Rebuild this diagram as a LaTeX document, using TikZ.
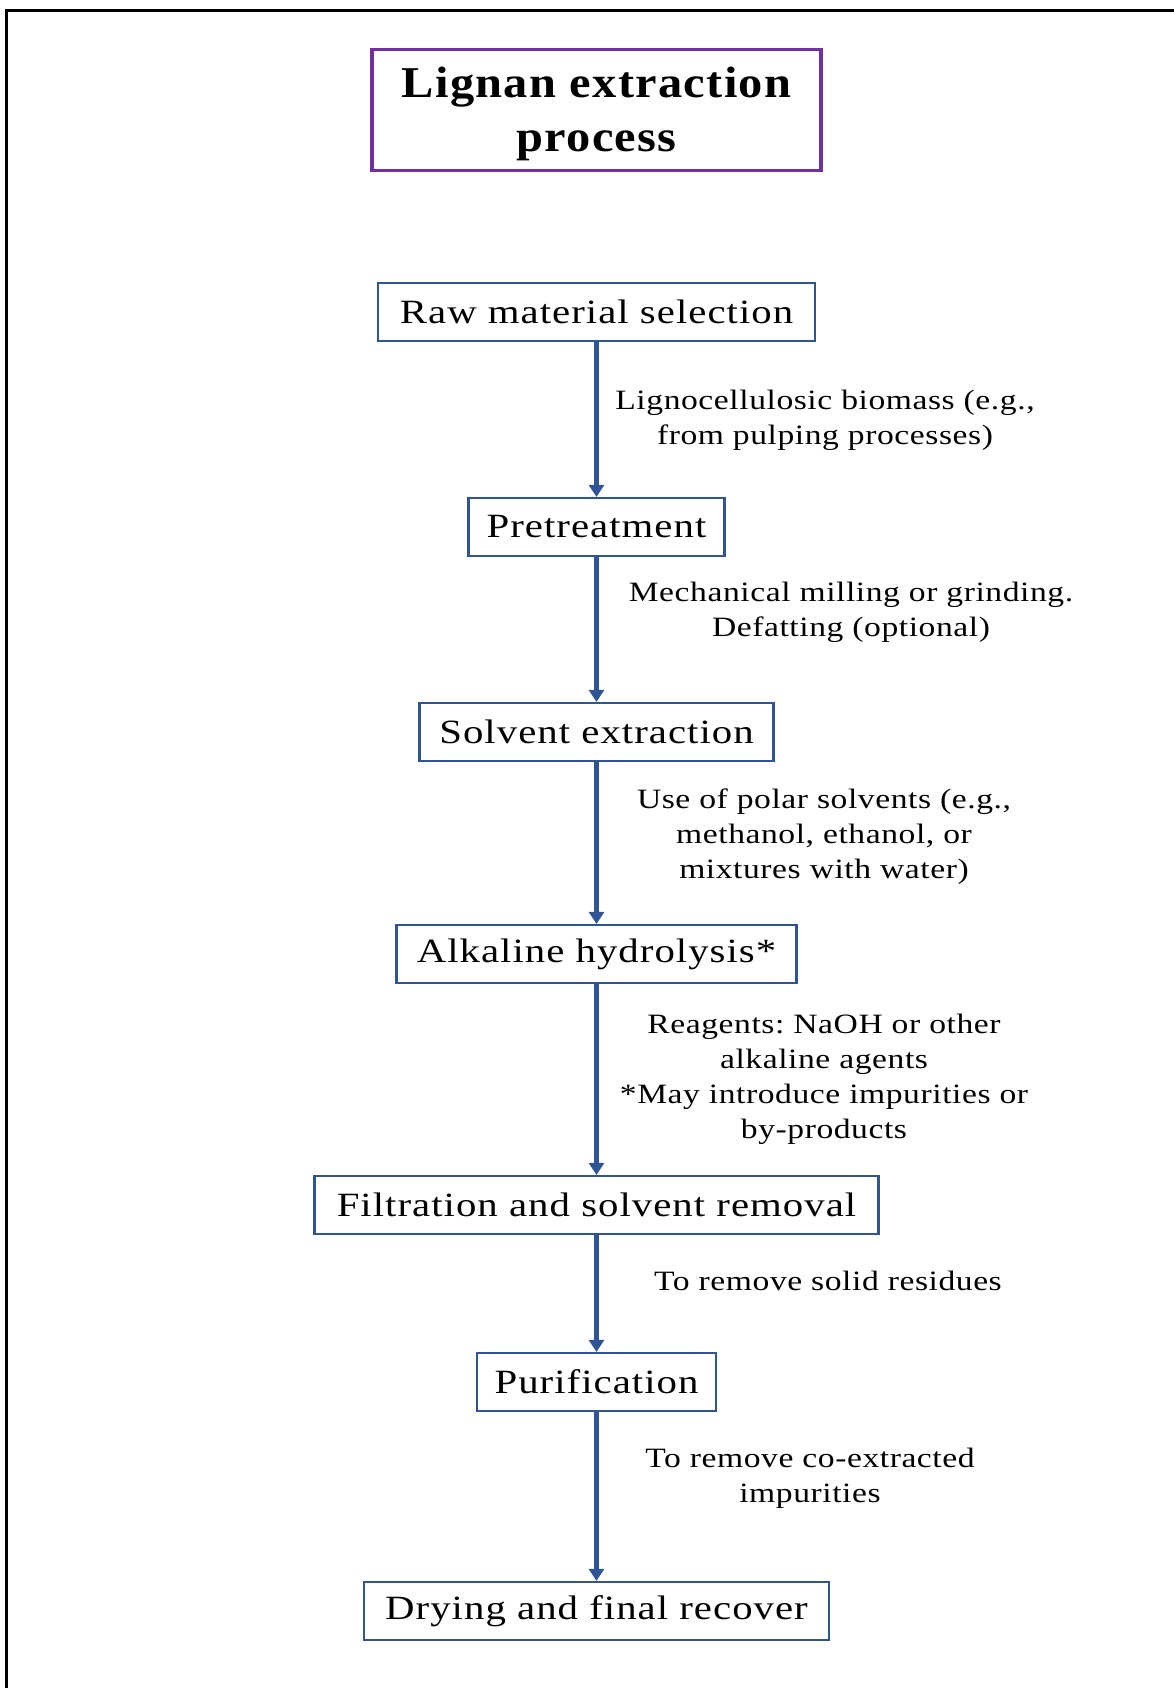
\documentclass[tikz,border=0pt]{standalone}
\usepackage{fontspec}
\setmainfont{Liberation Serif}
\newfontfamily\boxfont[FakeStretch=1.2,LetterSpace=3]{Liberation Serif}
\newfontfamily\labfont[FakeStretch=1.2,LetterSpace=2]{Liberation Serif}
\newfontfamily\titlefont[FakeStretch=1.1,LetterSpace=3]{Liberation Serif}
\usetikzlibrary{arrows.meta}
\definecolor{boxblue}{HTML}{2F5597}
\definecolor{titlepurple}{HTML}{7030A0}
\frenchspacing
\begin{document}
\begin{tikzpicture}[x=1pt,y=-1pt,
  stepbox/.style={draw=boxblue, line width=2.2pt, minimum height=58pt, inner sep=0pt,
    font=\boxfont\fontsize{34}{40}\selectfont},
  titlebox/.style={draw=titlepurple, line width=3.5pt, minimum height=121pt, minimum width=449pt,
    inner sep=0pt},
  titletxt/.style={align=center, inner sep=0pt, font=\titlefont\bfseries\fontsize{44}{54}\selectfont},
  lab/.style={align=center, inner sep=0pt, font=\labfont\fontsize{28}{35}\selectfont},
  flow/.style={draw=boxblue, line width=4.5pt, -{Triangle[width=15pt,length=12pt]}}]
\useasboundingbox (0,0) rectangle (1173,1688);
\draw[line width=3pt] (6,1690) -- (6,11) -- (1175,11);
\node[titlebox] (title) at (596.5,110) {};
\node[titletxt] (titletext) at (596.5,114) {Lignan extraction\\process};
\node[stepbox, minimum width=437pt] (raw) at (596.5,312) {Raw material selection};
\node[stepbox, minimum width=256pt] (pre) at (596.5,527) {Pretreatment};
\node[stepbox, minimum width=354pt] (sol) at (596.5,732) {Solvent extraction};
\node[stepbox, minimum width=400pt] (alk) at (596.5,954) {Alkaline hydrolysis*};
\node[stepbox, minimum width=564pt] (fil) at (596.5,1205) {Filtration and solvent removal};
\node[stepbox, minimum width=239pt] (pur) at (596.5,1382) {Purification};
\node[stepbox, minimum width=465pt] (dry) at (596.5,1611) {Drying and final recover};
\draw[flow] (raw) -- (pre);
\draw[flow] (pre) -- (sol);
\draw[flow] (sol) -- (alk);
\draw[flow] (alk) -- (fil);
\draw[flow] (fil) -- (pur);
\draw[flow] (pur) -- (dry);
\node[lab] (l1) at (825,420) {Lignocellulosic biomass (e.g.,\\from pulping processes)};
\node[lab] (l2) at (851,612) {Mechanical milling or grinding.\\Defatting (optional)};
\node[lab] (l3) at (824,837) {Use of polar solvents (e.g.,\\methanol, ethanol, or\\mixtures with water)};
\node[lab] (l4) at (824,1079) {Reagents: NaOH or other\\alkaline agents\\*May introduce impurities or\\by-products};
\node[lab] (l5) at (828,1281) {To remove solid residues};
\node[lab] (l6) at (810,1478) {To remove co-extracted\\impurities};
\end{tikzpicture}
\end{document}
